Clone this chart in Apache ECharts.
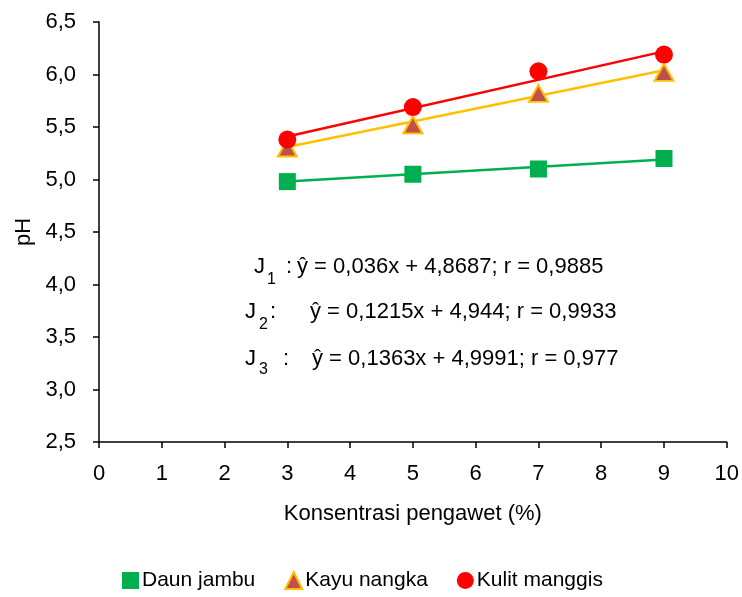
<!DOCTYPE html>
<html>
<head>
<meta charset="utf-8">
<style>html,body{margin:0;padding:0;background:#fff}#c{width:742px;height:597px}</style>
<script src="https://cdn.jsdelivr.net/npm/echarts@6/dist/echarts.min.js"></script>
</head>
<body>
<div id="c"></div>
<script>
// Data
const xValues = [3, 5, 7, 9];
const daunJambu = [4.98, 5.05, 5.10, 5.20];
const kayuNangka = [5.30, 5.52, 5.82, 6.02];
const kulitManggis = [5.38, 5.69, 6.03, 6.19];
// Trend line end points (at x = 3 and x = 9)
const trendX = [3, 9];
const trendDaun = [4.98, 5.19];
const trendKayu = [5.31, 6.04];
const trendKulit = [5.41, 6.22];
const seriesNames = ['Daun jambu', 'Kayu nangka', 'Kulit manggis'];
const eqSubs = ['1', '2', '3'];
const eqTexts = [
  'ŷ = 0,036x + 4,8687; r = 0,9885',
  'ŷ = 0,1215x + 4,944; r = 0,9933',
  'ŷ = 0,1363x + 4,9991; r = 0,977'
];

const FONT = '"Liberation Sans", Arial, sans-serif';
const FS = 22;
const pairs = (xs, ys) => xs.map((x, i) => [x, ys[i]]);

const chart = echarts.init(document.getElementById('c'), null, {renderer: 'canvas'});

// annotation layout: [J left, sub left, colon left, equation left, line top, sub top]
const eqLayout = [
  [254, 267, 286, 297, 256, 272],
  [245, 259, 270, 310, 301, 317],
  [245, 259, 283, 312, 348, 362]
];
const txt = (left, top, text, size) => ({
  type: 'text', left: left, top: top,
  style: {text: text, fontSize: size, fontFamily: FONT, fill: '#000', lineHeight: size}
});
const eqGraphics = [];
eqLayout.forEach((L, i) => {
  eqGraphics.push(txt(L[0], L[4], 'J', FS));
  eqGraphics.push(txt(L[1], L[5], eqSubs[i], 16));
  eqGraphics.push(txt(L[2], L[4], ':', FS));
  eqGraphics.push(txt(L[3], L[4], eqTexts[i], FS));
});

const option = {
  backgroundColor: '#fff',
  animation: false,
  textStyle: {fontFamily: FONT},
  grid: {left: 99, right: 15, top: 22, bottom: 155},
  legend: {
    data: [
      {name: seriesNames[0], icon: 'rect'},
      {name: seriesNames[1], icon: 'triangle'},
      {name: seriesNames[2], icon: 'circle'}
    ],
    left: 117, top: 565,
    itemWidth: 17, itemHeight: 17, itemGap: 29,
    textStyle: {fontSize: 21, fontFamily: FONT, color: '#000', padding: [0, 0, 0, -2]}
  },
  xAxis: {
    type: 'value', min: 0, max: 10, interval: 1,
    name: 'Konsentrasi pengawet (%)', nameLocation: 'middle', nameGap: 61,
    nameTextStyle: {fontSize: FS, fontFamily: FONT, color: '#000'},
    axisLine: {show: true, lineStyle: {color: '#000', width: 1.5}},
    axisTick: {show: true, inside: false, length: 6, lineStyle: {color: '#000', width: 1.5}},
    axisLabel: {fontSize: FS, fontFamily: FONT, color: '#000', margin: 21},
    splitLine: {show: false}
  },
  yAxis: {
    type: 'value', min: 2.5, max: 6.5, interval: 0.5,
    name: 'pH', nameLocation: 'middle', nameGap: 64, nameRotate: 90,
    nameTextStyle: {fontSize: FS, fontFamily: FONT, color: '#000'},
    axisLine: {show: true, lineStyle: {color: '#000', width: 1.5}},
    axisTick: {show: true, inside: false, length: 6, lineStyle: {color: '#000', width: 1.5}},
    axisLabel: {fontSize: FS, fontFamily: FONT, color: '#000', margin: 23,
      formatter: v => v.toFixed(1).replace('.', ',')},
    splitLine: {show: false}
  },
  graphic: eqGraphics,
  series: [
    {name: 'trend1', type: 'line', data: pairs(trendX, trendDaun), symbol: 'none',
      lineStyle: {color: '#00B050', width: 2.5}, z: 1, silent: true},
    {name: 'trend2', type: 'line', data: pairs(trendX, trendKayu), symbol: 'none',
      lineStyle: {color: '#FFC000', width: 2.5}, z: 1, silent: true},
    {name: 'trend3', type: 'line', data: pairs(trendX, trendKulit), symbol: 'none',
      lineStyle: {color: '#FF0000', width: 2.5}, z: 1, silent: true},
    {name: seriesNames[0], type: 'scatter', data: pairs(xValues, daunJambu), symbol: 'rect', symbolSize: 17,
      itemStyle: {color: '#00B050', opacity: 1}, z: 3},
    {name: seriesNames[1], type: 'scatter', data: pairs(xValues, kayuNangka), symbol: 'triangle', symbolSize: [19, 17],
      itemStyle: {color: '#C0504D', borderColor: '#FFC000', borderWidth: 2, opacity: 1}, z: 3},
    {name: seriesNames[2], type: 'scatter', data: pairs(xValues, kulitManggis), symbol: 'circle', symbolSize: 18,
      itemStyle: {color: '#FF0000', opacity: 1}, z: 3}
  ]
};
chart.setOption(option);
</script>
</body>
</html>
